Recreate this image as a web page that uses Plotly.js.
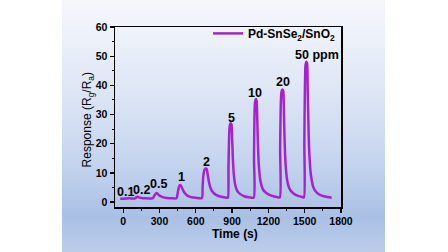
<!DOCTYPE html>
<html>
<head>
<meta charset="utf-8">
<script src="https://cdn.plot.ly/plotly-3.0.1.min.js"></script>
<style>
  html, body { margin: 0; padding: 0; background: #ffffff; width: 448px; height: 252px; overflow: hidden; }
  #bgpanel { position: absolute; left: 62px; top: 0; width: 323px; height: 252px;
    background: linear-gradient(to bottom, #f5f7fc 0%, #dfe7f5 35%, #c4d4ee 65%, #a9c0e4 86%, #bccdea 100%); }
  #chart { position: absolute; left: 0; top: 0; width: 448px; height: 252px; }
</style>
</head>
<body>
<div id="bgpanel"></div>
<div id="chart"></div>
<script>
// Time (s)
const timeS = [
  -25, 0, 20, 40, 60, 80, 95,
  100, 110, 118, 130, 150, 180, 220, 245,
  255, 265, 275, 285, 300, 325, 360, 400, 440,
  450, 458, 466, 474, 482, 495, 510, 530, 560, 600, 650,
  656, 662, 670, 680, 690, 698, 708, 720, 740, 770, 810, 860, 866,
  870, 875, 880, 888, 895, 900, 906, 914, 925, 940, 965, 1000, 1040, 1078,
  1081, 1085, 1090, 1097, 1103, 1108, 1114, 1122, 1135, 1155, 1185, 1230, 1270, 1294,
  1297, 1302, 1308, 1316, 1323, 1328, 1334, 1342, 1355, 1375, 1405, 1445, 1480, 1494,
  1497, 1502, 1507, 1514, 1520, 1525, 1531, 1539, 1552, 1572, 1600, 1640, 1690, 1723
];
// Response (Rg/Ra)
const response = [
  1.1, 1.15, 1.2, 1.3, 1.25, 1.2, 1.2,
  1.3, 1.7, 1.8, 1.6, 1.4, 1.3, 1.25, 1.3,
  2.0, 2.7, 3.1, 2.8, 2.2, 1.7, 1.4, 1.3, 1.3,
  3.0, 4.8, 5.7, 5.8, 5.2, 4.0, 3.0, 2.2, 1.7, 1.45, 1.35,
  5.0, 9.0, 10.8, 11.5, 11.3, 9.5, 7.0, 5.0, 3.4, 2.4, 1.8, 1.5, 1.5,
  12, 22, 26, 27, 26.5, 22, 15, 9.5, 6.0, 4.0, 2.8, 2.0, 1.6, 1.5,
  15, 30, 34.5, 35.3, 34.5, 28, 19, 12, 7.0, 4.3, 3.0, 2.1, 1.7, 1.6,
  18, 33, 37.8, 38.6, 38, 31, 21, 13, 7.5, 4.5, 3.0, 2.1, 1.7, 1.6,
  20, 40, 47, 48.1, 47.5, 38, 26, 16, 9.0, 5.0, 3.2, 2.2, 1.7, 1.5
];
// Concentration labels
const labelText = ["0.1", "0.2", "0.5", "1", "2", "5", "10", "20", "50 ppm"];
const labelX = [18, 152, 290, 482, 687, 893, 1085, 1317, 1600];
const labelY = [3.5, 4.1, 6.2, 8.5, 13.8, 28.7, 37.5, 41.2, 50.4];
const xTicks = [0, 300, 600, 900, 1200, 1500, 1800];
const yTicks = [0, 10, 20, 30, 40, 50, 60];
const xTitle = "<b>Time (s)</b>";
const yTitle = "Response (R<sub>g</sub>/R<sub>a</sub>)";

const FONT = "Liberation Sans, Arial, sans-serif";

const trace = {
  x: timeS, y: response, type: "scatter", mode: "lines",
  name: "<b>Pd-SnSe<sub>2</sub>/SnO<sub>2</sub></b>",
  line: { color: "#a722cf", width: 2.5, shape: "spline", smoothing: 0.6 }
};

const annotations = labelText.map((t, i) => ({
  x: labelX[i], y: labelY[i], xref: "x", yref: "y",
  text: "<b>" + t + "</b>", showarrow: false,
  font: { family: FONT, size: 12.5, color: "#000" }
}));
annotations.push({
  x: 0.53, y: -0.152, xref: "paper", yref: "paper", xanchor: "center", yanchor: "middle",
  text: xTitle, showarrow: false, font: { family: FONT, size: 12, color: "#000" }
});
annotations.push({
  x: -0.118, y: 0.483, xref: "paper", yref: "paper", xanchor: "center", yanchor: "middle",
  text: yTitle, textangle: -90, showarrow: false, font: { family: FONT, size: 12, color: "#000" }
});

const layout = {
  width: 448, height: 252,
  paper_bgcolor: "rgba(0,0,0,0)", plot_bgcolor: "rgba(0,0,0,0)",
  margin: { l: 115, r: 107, t: 27, b: 45, pad: 0 },
  font: { family: FONT, color: "#000" },
  showlegend: true,
  legend: {
    x: 1, xanchor: "right", y: 1.045, yanchor: "top",
    bgcolor: "rgba(0,0,0,0)", borderwidth: 0,
    font: { family: FONT, size: 12, color: "#000" },
    itemwidth: 30, tracegroupgap: 0
  },
  xaxis: {
    range: [-68, 1800], tickvals: xTicks, ticktext: xTicks.map(v => "<b>" + v + "</b>"),
    ticks: "outside", ticklen: 4, tickwidth: 1.3, tickcolor: "#000",
    minor: { dtick: 150, ticks: "outside", ticklen: 2, tickwidth: 1, tickcolor: "#000" },
    showline: true, linecolor: "#000", linewidth: 1.5, mirror: true,
    showgrid: false, zeroline: false, automargin: false,
    tickfont: { family: FONT, size: 10.5, color: "#000" }
  },
  yaxis: {
    range: [-1.7, 60], tickvals: yTicks, ticktext: yTicks.map(v => "<b>" + v + "</b>"),
    ticks: "outside", ticklen: 4, tickwidth: 1.3, tickcolor: "#000",
    minor: { dtick: 5, ticks: "outside", ticklen: 2, tickwidth: 1, tickcolor: "#000" },
    showline: true, linecolor: "#000", linewidth: 1.5, mirror: true,
    showgrid: false, zeroline: false, automargin: false,
    tickfont: { family: FONT, size: 10.5, color: "#000" }
  },
  annotations: annotations
};

Plotly.newPlot("chart", [trace], layout, { displayModeBar: false, staticPlot: true });
</script>
</body>
</html>
